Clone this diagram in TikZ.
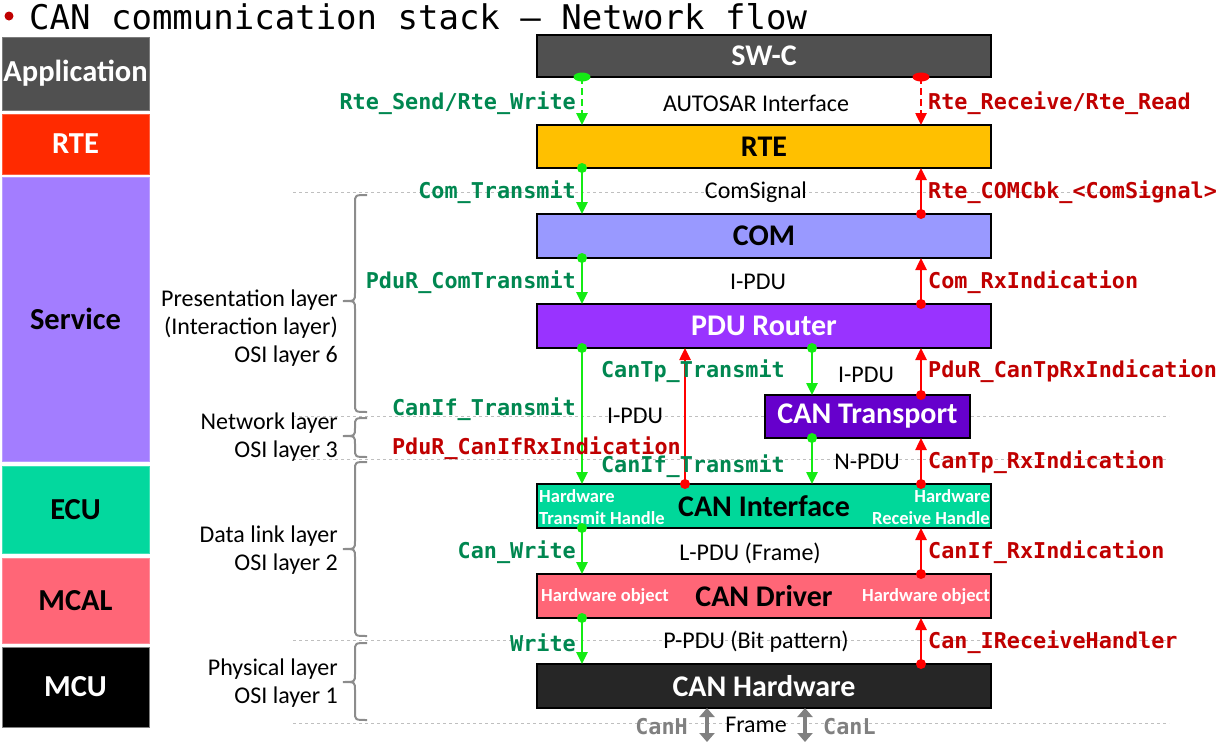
\documentclass[tikz,border=0pt]{standalone}
\usepackage{fontspec}
\setmainfont{Carlito}
\newfontfamily\monof{DejaVu Sans Mono}
\usetikzlibrary{arrows.meta}
\definecolor{appgray}{RGB}{80,80,80}
\definecolor{rtered}{RGB}{255,42,0}
\definecolor{servpurple}{RGB}{163,125,255}
\definecolor{ecugreen}{RGB}{3,216,158}
\definecolor{mcalpink}{RGB}{255,102,119}
\definecolor{rteyellow}{RGB}{255,192,0}
\definecolor{compurple}{RGB}{153,153,255}
\definecolor{pdupurple}{RGB}{153,51,255}
\definecolor{tppurple}{RGB}{102,0,204}
\definecolor{canifgreen}{RGB}{0,216,154}
\definecolor{hwblack}{RGB}{38,38,38}
\definecolor{gtext}{RGB}{0,135,80}
\definecolor{rtext}{RGB}{192,0,0}
\definecolor{garr}{RGB}{20,235,20}
\definecolor{rarr}{RGB}{255,0,0}
\definecolor{grayarr}{RGB}{128,128,128}
\newcommand\layerbrace[3]{%
  \draw[bracestyle] (367,#1) .. controls (355,#1) and (355,#1) .. (355,#1+8)
    -- (355,#2-8) .. controls (355,#2) and (355,#2) .. (343,#2)
    .. controls (355,#2) and (355,#2) .. (355,#2+8)
    -- (355,#3-8) .. controls (355,#3) and (355,#3) .. (367,#3);}
\begin{document}
\begin{tikzpicture}[x=1pt,y=-1pt,
  lbox/.style={minimum width=147pt, inner sep=0, outer sep=0, draw=#1!75!white, fill=#1, line width=1pt,
    font=\bfseries\fontsize{30.5}{33}\selectfont},
  mbox/.style={draw=black, line width=1.5pt, inner sep=0, outer sep=0, minimum height=43pt,
    font=\bfseries\fontsize{30}{33}\selectfont},
  hwlab/.style={text=white, inner sep=0, font=\bfseries\fontsize{18.5}{22}\selectfont},
  gl/.style={text=gtext, inner sep=0, font=\monof\bfseries\fontsize{21.8}{24}\selectfont},
  rl/.style={text=rtext, inner sep=0, font=\monof\bfseries\fontsize{21.8}{24}\selectfont},
  ml/.style={text=black, inner sep=0, font=\fontsize{24}{28}\selectfont},
  layer/.style={align=right, anchor=east, inner sep=0, font=\fontsize{24}{28}\selectfont},
  gline/.style={draw=garr, line width=2.5pt, -{Triangle[length=12pt,width=11pt]}},
  rline/.style={draw=rarr, line width=2.5pt, -{Triangle[length=12pt,width=11pt]}},
  gdot/.style={circle, fill=garr, inner sep=0, minimum size=10pt},
  rdot/.style={circle, fill=rarr, inner sep=0, minimum size=10pt},
  sepline/.style={draw=black!25, dashed, line width=1pt},
  bracestyle/.style={draw=black!45, line width=2pt},
  twoway/.style={draw=grayarr, line width=4.5pt, {Triangle[length=9pt,width=15pt]}-{Triangle[length=9pt,width=15pt]}}
]
\useasboundingbox (0,0) rectangle (1216,747);

% separator lines
\foreach \yy in {192,416,459,640,723} \draw[sepline] (293,\yy) -- (1169,\yy);

% braces
\layerbrace{195}{301}{412}
\layerbrace{418}{436}{457}
\layerbrace{462}{549}{636}
\layerbrace{643}{682}{720}

% title
\fill[rtext] (9,16) circle[radius=4.5pt];
\node[anchor=base west, inner sep=0, font=\monof\fontsize{34}{36}\selectfont] (title) at (29,29) {CAN communication stack – Network flow};

% left column
\node[lbox=appgray, text=white, minimum height=73pt] (lapp) at (75.5,73.5) {Application};
\node[lbox=rtered, text=white, minimum height=60pt] (lrte) at (75.5,144) {RTE};
\node[lbox=servpurple, text=black, minimum height=284pt] (lsrv) at (75.5,319) {Service};
\node[lbox=ecugreen, text=black, minimum height=87pt] (lecu) at (75.5,509.5) {ECU};
\node[lbox=mcalpink, text=black, minimum height=85pt] (lmcal) at (75.5,600.5) {MCAL};
\node[lbox=black, text=white, minimum height=80pt, draw=black!50] (lmcu) at (75.5,687) {MCU};

% layer labels
\node[layer] (pres) at (338,328) {Presentation layer\\(Interaction layer)\\OSI layer 6};
\node[layer] (netw) at (338,437.5) {Network layer\\OSI layer 3};
\node[layer] (dlink) at (338,550) {Data link layer\\OSI layer 2};
\node[layer] (phys) at (338,683) {Physical layer\\OSI layer 1};

% main stack
\node[mbox, fill=appgray, text=white, minimum width=454pt, minimum height=42pt] (swc) at (764,56) {SW-C};
\node[mbox, fill=rteyellow, text=black, minimum width=454pt] (rte) at (764,146.5) {RTE};
\node[mbox, fill=compurple, text=black, minimum width=454pt, minimum height=44pt] (com) at (764,236) {COM};
\node[mbox, fill=pdupurple, text=white, minimum width=454pt, minimum height=44pt] (pdu) at (764,326) {PDU Router};
\node[mbox, fill=tppurple, text=white, minimum width=205pt] (ctp) at (867.5,416.5) {CAN Transport};
\node[mbox, fill=canifgreen, text=black, minimum width=454pt, minimum height=44pt] (cif) at (764,506) {CAN Interface};
\node[mbox, fill=mcalpink, text=black, minimum width=454pt, minimum height=44pt] (drv) at (764,596) {CAN Driver};
\node[mbox, fill=hwblack, text=white, minimum width=454pt, minimum height=44pt] (hw) at (764,686) {CAN Hardware};

% inner labels
\node[hwlab, anchor=west, align=left] (txh) at (539,507) {Hardware\\Transmit Handle};
\node[hwlab, anchor=east, align=right] (rxh) at (990,507) {Hardware\\Receive Handle};
\node[hwlab, anchor=west] (hwo1) at (541,597) {Hardware object};
\node[hwlab, anchor=east] (hwo2) at (990,597) {Hardware object};

% arrow columns
\coordinate (gx) at (582,0);
\coordinate (rx) at (921,0);
\coordinate (rx2) at (685,0);
\coordinate (gx2) at (812,0);

% AUTOSAR interface (dashed)
\draw[gline, dash pattern=on 7pt off 4pt] (swc.south -| gx) -- (rte.north -| gx);
\fill[garr] (swc.south -| gx) ellipse [x radius=8.5pt, y radius=4.5pt];
\draw[rline, dash pattern=on 7pt off 4pt] (swc.south -| rx) -- (rte.north -| rx);
\fill[rarr] (swc.south -| rx) ellipse [x radius=8.5pt, y radius=4.5pt];

% transmit path (green)
\draw[gline] (rte.south -| gx) node[gdot]{} -- (com.north -| gx);
\draw[gline] (com.south -| gx) node[gdot]{} -- (pdu.north -| gx);
\draw[gline] (pdu.south -| gx) node[gdot]{} -- (cif.north -| gx);
\draw[gline] (pdu.south -| gx2) node[gdot]{} -- (ctp.north -| gx2);
\draw[gline] (ctp.south -| gx2) node[gdot]{} -- (cif.north -| gx2);
\draw[gline] (cif.south -| gx) node[gdot]{} -- (drv.north -| gx);
\draw[gline] (drv.south -| gx) node[gdot]{} -- (hw.north -| gx);

% receive path (red)
\draw[rline] (com.north -| rx) node[rdot]{} -- (rte.south -| rx);
\draw[rline] (pdu.north -| rx) node[rdot]{} -- (com.south -| rx);
\draw[rline] (ctp.north -| rx) node[rdot]{} -- (pdu.south -| rx);
\draw[rline] (cif.north -| rx) node[rdot]{} -- (ctp.south -| rx);
\draw[rline] (cif.north -| rx2) node[rdot]{} -- (pdu.south -| rx2);
\draw[rline] (drv.north -| rx) node[rdot]{} -- (cif.south -| rx);
\draw[rline] (hw.north -| rx) node[rdot]{} -- (drv.south -| rx);

% bus
\coordinate (bh) at (707,742);
\coordinate (bl) at (805,742);
\draw[twoway] (hw.south -| bh) -- (bh);
\draw[twoway] (hw.south -| bl) -- (bl);

% labels
\node[gl, anchor=east] (a1) at (576,103) {Rte\_Send/Rte\_Write};
\node[ml] (m1) at (756,103) {AUTOSAR Interface};
\node[rl, anchor=west] (b1) at (928,103) {Rte\_Receive/Rte\_Read};

\node[gl, anchor=east] (a2) at (576,192) {Com\_Transmit};
\node[ml] (m2) at (756,192) {ComSignal};
\node[rl, anchor=west] (b2) at (928,192) {Rte\_COMCbk\_<ComSignal>};

\node[gl, anchor=east] (a3) at (576,282) {PduR\_ComTransmit};
\node[ml] (m3) at (758,282) {I-PDU};
\node[rl, anchor=west] (b3) at (928,282) {Com\_RxIndication};

\node[gl, anchor=east] (a4) at (785,371) {CanTp\_Transmit};
\node[ml] (m4) at (866,375) {I-PDU};
\node[rl, anchor=west] (b4) at (928,371) {PduR\_CanTpRxIndication};

\node[gl, anchor=east] (a5) at (576,409) {CanIf\_Transmit};
\node[ml] (m5) at (635,416) {I-PDU};
\node[rl, anchor=east] (b5) at (681,448) {PduR\_CanIfRxIndication};
\node[gl, anchor=east] (a6) at (785,466) {CanIf\_Transmit};
\node[ml] (m6) at (867,462) {N-PDU};
\node[rl, anchor=west] (b6) at (928,462) {CanTp\_RxIndication};

\node[gl, anchor=east] (a7) at (576,552) {Can\_Write};
\node[ml] (m7) at (750,553) {L-PDU (Frame)};
\node[rl, anchor=west] (b7) at (928,552) {CanIf\_RxIndication};

\node[gl, anchor=east] (a8) at (576,643) {Write};
\node[ml] (m8) at (756,642) {P-PDU (Bit pattern)};
\node[rl, anchor=west] (b8) at (928,642) {Can\_IReceiveHandler};

\node[gl, text=grayarr, anchor=east] (canh) at (688,727) {CanH};
\node[ml] (frame) at (756,725) {Frame};
\node[gl, text=grayarr, anchor=west] (canl) at (823,727) {CanL};
\end{tikzpicture}
\end{document}
